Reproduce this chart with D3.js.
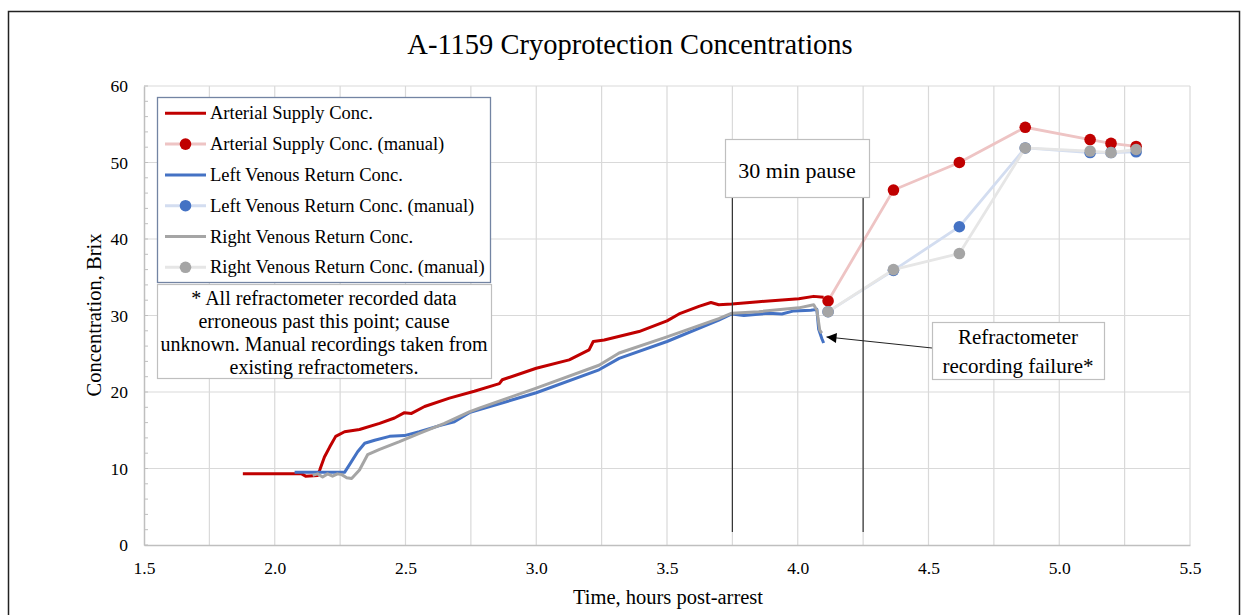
<!DOCTYPE html>
<html>
<head>
<meta charset="utf-8">
<script src="https://cdn.jsdelivr.net/npm/d3@7"></script>
<style>
  body { margin: 0; background: #fff; }
  text { font-family: "Liberation Serif", "Times New Roman", serif; fill: #000; }
</style>
</head>
<body>
<div class="chart"></div>
<script>
// recorded refractometer data (time in hours, conc in Brix)
var arterialTime = [1.878, 2.103, 2.118, 2.164, 2.172, 2.19, 2.21, 2.233, 2.267, 2.324, 2.401, 2.458, 2.496, 2.523, 2.573, 2.668, 2.763, 2.840, 2.859, 2.870, 3.0, 3.126, 3.202, 3.218, 3.260, 3.393, 3.5, 3.546, 3.622, 3.668, 3.698, 3.748, 3.851, 4.004, 4.061, 4.099];
var arterialConc = [9.3, 9.3, 9.0, 9.1, 9.8, 11.5, 12.8, 14.2, 14.8, 15.1, 15.9, 16.6, 17.3, 17.2, 18.1, 19.2, 20.1, 20.9, 21.1, 21.6, 23.1, 24.2, 25.5, 26.6, 26.8, 27.9, 29.3, 30.2, 31.2, 31.7, 31.4, 31.5, 31.8, 32.2, 32.5, 32.4];

var leftTime = [2.076, 2.267, 2.286, 2.317, 2.344, 2.382, 2.439, 2.496, 2.553, 2.630, 2.687, 2.744, 3.0, 3.240, 3.317, 3.5, 3.698, 3.748, 3.794, 3.889, 3.939, 3.985, 4.050, 4.073, 4.080, 4.092, 4.099];
var leftConc = [9.5, 9.5, 10.5, 12.2, 13.3, 13.7, 14.2, 14.3, 14.8, 15.6, 16.1, 17.3, 19.9, 22.9, 24.4, 26.6, 29.4, 30.2, 30.0, 30.3, 30.2, 30.6, 30.7, 30.8, 28.2, 27.0, 26.4];

var rightTime = [2.145, 2.164, 2.183, 2.202, 2.221, 2.240, 2.256, 2.275, 2.294, 2.324, 2.355, 2.401, 2.477, 2.553, 2.649, 2.744, 2.782, 3.0, 3.240, 3.317, 3.5, 3.698, 3.748, 3.851, 4.004, 4.061, 4.073, 4.084, 4.092];
var rightConc = [9.1, 9.3, 8.9, 9.3, 9.0, 9.3, 9.2, 8.8, 8.7, 9.8, 11.8, 12.5, 13.5, 14.6, 15.9, 17.4, 17.9, 20.5, 23.5, 25.1, 27.2, 29.6, 30.3, 30.5, 31.0, 31.4, 30.7, 28.1, 27.7];

// manual readings
var manualTime = [4.116, 4.366, 4.618, 4.870, 5.118, 5.198, 5.294];
var arterialManual = [31.9, 46.4, 50.0, 54.6, 53.0, 52.5, 52.1];
var leftManual = [30.5, 35.9, 41.6, 51.9, 51.3, 51.3, 51.4];
var rightManual = [30.5, 36.0, 38.1, 51.9, 51.5, 51.3, 51.7];

var xTicks = [1.5, 2.0, 2.5, 3.0, 3.5, 4.0, 4.5, 5.0, 5.5];
var yTicks = [0, 10, 20, 30, 40, 50, 60];
var pauseTimes = [3.75, 4.25];

var legendLabels = ["Arterial Supply Conc.", "Arterial Supply Conc. (manual)", "Left Venous Return Conc.", "Left Venous Return Conc. (manual)", "Right Venous Return Conc.", "Right Venous Return Conc. (manual)"];
var noteLines = ["* All refractometer recorded data", "erroneous past this point; cause", "unknown. Manual recordings taken from", "existing refractometers."];

var svgWidth = 1249;
var svgHeight = 615;

var margin = {top: 86, right: 59, bottom: 70, left: 144};
var width = svgWidth - margin.left - margin.right;
var height = svgHeight - margin.top - margin.bottom;

var svg = d3.select(".chart")
  .append("svg")
  .attr("width", svgWidth)
  .attr("height", svgHeight);

// outer frame
svg.append("rect")
  .attr("x", 8.5).attr("y", 11.5)
  .attr("width", 1231).attr("height", 640)
  .attr("fill", "none").attr("stroke", "#222").attr("stroke-width", 1.5);

svg.append("text")
  .attr("x", 630).attr("y", 54)
  .attr("text-anchor", "middle")
  .style("font-size", "28.5px")
  .text("A-1159 Cryoprotection Concentrations");

var chartGroup = svg.append("g")
  .attr("transform", `translate(${margin.left}, ${margin.top})`);

var x = d3.scaleLinear().domain([1.5, 5.5]).range([0, width]);
var y = d3.scaleLinear().domain([0, 60]).range([height, 0]);

// gridlines
chartGroup.append("g")
  .selectAll("line")
  .data(d3.range(1.75, 5.51, 0.25))
  .enter().append("line")
  .attr("x1", d => x(d)).attr("x2", d => x(d))
  .attr("y1", 0).attr("y2", height)
  .attr("stroke", "#d9d9d9").attr("stroke-width", 1.2);

chartGroup.append("g")
  .selectAll("line")
  .data(yTicks.slice(1))
  .enter().append("line")
  .attr("x1", 0).attr("x2", width)
  .attr("y1", d => y(d)).attr("y2", d => y(d))
  .attr("stroke", "#d9d9d9").attr("stroke-width", 1.2);

// axes
var bottomAxis = d3.axisBottom(x).tickValues(xTicks).tickSize(0).tickPadding(17).tickFormat(d3.format(".1f"));
var leftAxis = d3.axisLeft(y).tickValues(yTicks).tickSize(0).tickPadding(16);

var xAxisG = chartGroup.append("g")
  .attr("transform", `translate(0, ${height})`)
  .call(bottomAxis);
var yAxisG = chartGroup.append("g").call(leftAxis);

[xAxisG, yAxisG].forEach(function(g) {
  g.select(".domain").attr("stroke", "#bfbfbf").attr("stroke-width", 1.5);
  g.selectAll("text").style("font-size", "17.5px").attr("font-family", null);
});

// minor ticks on y
chartGroup.append("g")
  .selectAll("line")
  .data(d3.range(0, 61, 2))
  .enter().append("line")
  .attr("x1", 0).attr("x2", 4)
  .attr("y1", d => y(d)).attr("y2", d => y(d))
  .attr("stroke", "#bfbfbf");

// axis titles
svg.append("text")
  .attr("transform", "rotate(-90)")
  .attr("x", -315).attr("y", 101)
  .attr("text-anchor", "middle")
  .style("font-size", "20.5px")
  .text("Concentration, Brix");

svg.append("text")
  .attr("x", 668).attr("y", 604)
  .attr("text-anchor", "middle")
  .style("font-size", "20.5px")
  .text("Time, hours post-arrest");

var line = d3.line()
  .x(d => x(d[0]))
  .y(d => y(d[1]));

var colors = ["#c00000", "#4472c4", "#a5a5a5"];
var lightColors = ["#eec4c4", "#d3ddf0", "#e6e6e6"];

var recorded = [
  d3.zip(arterialTime, arterialConc),
  d3.zip(leftTime, leftConc),
  d3.zip(rightTime, rightConc)
];
var manual = [
  d3.zip(manualTime, arterialManual),
  d3.zip(manualTime, leftManual),
  d3.zip(manualTime, rightManual)
];

recorded.forEach(function(data, i) {
  chartGroup.append("path")
    .datum(data)
    .attr("d", line)
    .attr("fill", "none")
    .attr("stroke", colors[i])
    .attr("stroke-width", 3)
    .attr("stroke-linejoin", "round");
});

manual.forEach(function(data, i) {
  chartGroup.append("path")
    .datum(data)
    .attr("d", line)
    .attr("fill", "none")
    .attr("stroke", lightColors[i])
    .attr("stroke-width", 2.8);
  chartGroup.append("g")
    .selectAll("circle")
    .data(data)
    .enter().append("circle")
    .attr("cx", d => x(d[0]))
    .attr("cy", d => y(d[1]))
    .attr("r", 5.8)
    .attr("fill", colors[i]);
});

// 30 min pause lines
chartGroup.append("g")
  .selectAll("line")
  .data(pauseTimes)
  .enter().append("line")
  .attr("x1", d => x(d)).attr("x2", d => x(d))
  .attr("y1", 112).attr("y2", height - 13)
  .attr("stroke", "#333").attr("stroke-width", 1.2);

svg.append("rect")
  .attr("x", 725.5).attr("y", 139.5)
  .attr("width", 144).attr("height", 58)
  .attr("fill", "#fff").attr("stroke", "#bfbfbf").attr("stroke-width", 1.2);
svg.append("text")
  .attr("x", 797).attr("y", 170)
  .attr("text-anchor", "middle").attr("dominant-baseline", "central")
  .style("font-size", "22px")
  .text("30 min pause");

// refractometer failure annotation
svg.append("defs").append("marker")
  .attr("id", "arrow")
  .attr("viewBox", "0 0 10 10")
  .attr("refX", 10).attr("refY", 5)
  .attr("markerWidth", 12).attr("markerHeight", 10)
  .attr("markerUnits", "userSpaceOnUse")
  .attr("orient", "auto")
  .append("path").attr("d", "M0,0 L10,5 L0,10 z").attr("fill", "#000");

chartGroup.append("line")
  .attr("x1", 932 - margin.left).attr("y1", 348 - margin.top)
  .attr("x2", x(4.11)).attr("y2", y(27.2))
  .attr("stroke", "#222").attr("stroke-width", 1)
  .attr("marker-end", "url(#arrow)");

svg.append("rect")
  .attr("x", 932.5).attr("y", 322.5)
  .attr("width", 172).attr("height", 57)
  .attr("fill", "#fff").attr("stroke", "#bfbfbf").attr("stroke-width", 1.2);
svg.selectAll(".failText")
  .data(["Refractometer", "recording failure*"])
  .enter().append("text")
  .attr("class", "failText")
  .attr("x", 1018).attr("y", (d, i) => 337 + i * 29)
  .attr("text-anchor", "middle").attr("dominant-baseline", "central")
  .style("font-size", "21px")
  .text(d => d);

// legend
svg.append("rect")
  .attr("x", 157.5).attr("y", 97.5)
  .attr("width", 333).attr("height", 185)
  .attr("fill", "#fff").attr("stroke", "#7384a3").attr("stroke-width", 1.3);

var legend = svg.append("g").selectAll("g")
  .data(legendLabels)
  .enter().append("g")
  .attr("transform", (d, i) => `translate(0, ${113.3 + i * 30.8})`);

legend.append("line")
  .attr("x1", 165).attr("x2", 206)
  .attr("stroke", (d, i) => i % 2 ? lightColors[Math.floor(i / 2)] : colors[Math.floor(i / 2)])
  .attr("stroke-width", 3);
legend.filter((d, i) => i % 2 == 1).append("circle")
  .attr("cx", 185.5).attr("r", 5.8)
  .attr("fill", (d, i) => colors[i]);
legend.append("text")
  .attr("x", 210)
  .attr("dominant-baseline", "central")
  .style("font-size", "18.5px")
  .text(d => d);

// note box
svg.append("rect")
  .attr("x", 157.5).attr("y", 284.5)
  .attr("width", 334).attr("height", 94)
  .attr("fill", "#fff").attr("stroke", "#bfbfbf").attr("stroke-width", 1.2);
svg.selectAll(".note")
  .data(noteLines)
  .enter().append("text")
  .attr("class", "note")
  .attr("x", 324).attr("y", (d, i) => 298 + i * 23)
  .attr("text-anchor", "middle").attr("dominant-baseline", "central")
  .style("font-size", "20px")
  .text(d => d);
</script>
</body>
</html>
